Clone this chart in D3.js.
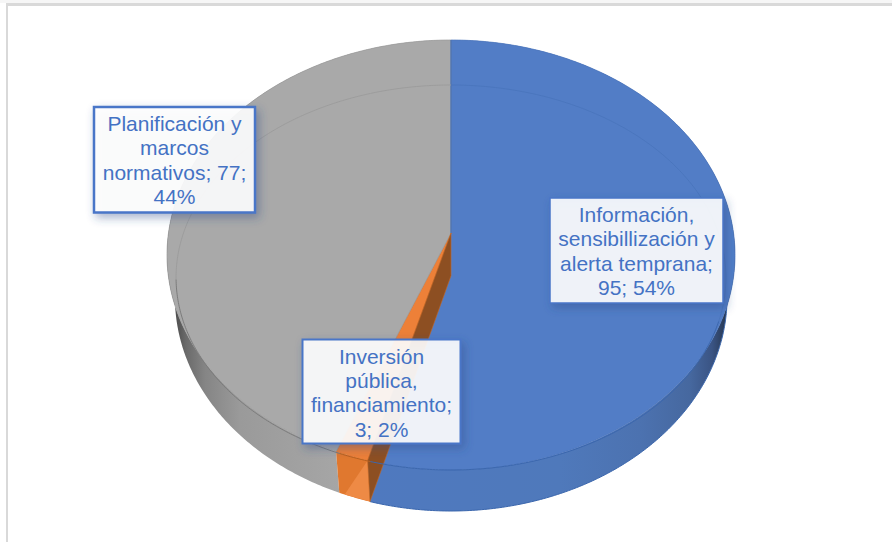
<!DOCTYPE html>
<html><head><meta charset="utf-8">
<script src="https://cdnjs.cloudflare.com/ajax/libs/d3/7.8.5/d3.min.js"></script>
<style>html,body{margin:0;padding:0;background:#fff}svg{display:block}</style>
</head><body><svg id="c" width="892" height="542"></svg>
<script>
const categories=["Información, sensibillización y alerta temprana","Inversión pública, financiamiento","Planificación y marcos normativos"];
const values=[95,3,77];
const wrappedNames=[["Información,","sensibillización y","alerta temprana;"],["Inversión","pública,","financiamiento;"],["Planificación y","marcos","normativos;"]];
const topColors=["#527dc6","#ed8038","#a9a9a9"];

const svg=d3.select("#c");
const W=892,H=542,cx=451,persp=-0.1023;
const defs=svg.append("defs");
function grad(id,stops){
  const g=defs.append("linearGradient").attr("id",id).attr("gradientUnits","userSpaceOnUse")
    .attr("x1",165).attr("x2",740).attr("y1",0).attr("y2",0);
  stops.forEach(([x,c])=>g.append("stop").attr("offset",(x-165)/575).attr("stop-color",c));
}
grad("wallGray",[[174,"#4a4a4a"],[186,"#6a6a6a"],[205,"#858585"],[240,"#9a9a9a"],[340,"#a6a6a6"]]);
grad("wallBlue",[[370,"#4f79bf"],[560,"#4f79bb"],[640,"#4c72b0"],[690,"#46689f"],[712,"#3a5484"],[727,"#26364f"]]);
const shadow=defs.append("filter").attr("id","sh").attr("x","-15%").attr("y","-15%").attr("width","135%").attr("height","135%");
shadow.append("feDropShadow").attr("dx",3).attr("dy",4).attr("stdDeviation",5).attr("flood-color","#2a4a88").attr("flood-opacity",0.45);

// Perspective projection of the pie's circle on to a plane given by its far and near image rows
function plane(far,near,k){
  const s=far*(1-persp), t=near*(1+persp), b=(s+t)/2, a=(t-s)/2;
  return (ang,r=1)=>{
    const u=r*Math.sin(ang), v=-r*Math.cos(ang), d=persp*v+1;
    return [cx+k*u/d,(a*v+b)/d];
  };
}
const topP=plane(40,470,282.5), botP=plane(84,511,274.6), innerP=plane(85,470,273.5);
const line=d3.line();
const arcPts=(p,a0,a1)=>{const n=Math.max(2,Math.ceil(Math.abs(a1-a0)/0.01));
  return d3.range(n+1).map(i=>p(a0+(a1-a0)*i/n));};

const arcs=d3.pie().sort(null).value(d=>d)(values);
const [blue,orange,gray]=arcs;

// side walls
svg.append("path").attr("d",line([...arcPts(botP,gray.startAngle,gray.endAngle),...arcPts(topP,gray.endAngle,gray.startAngle)])+"Z").attr("fill","url(#wallGray)");
svg.append("path").attr("d",line([...arcPts(botP,blue.startAngle,blue.endAngle),...arcPts(topP,blue.endAngle,blue.startAngle)])+"Z").attr("fill","url(#wallBlue)");
svg.append("path").attr("d",line(arcPts(botP,1.0,blue.endAngle))).attr("fill","none").attr("stroke","#3a66ad").attr("stroke-width",1);

// top faces
arcs.forEach((d,i)=>{
  svg.append("path").attr("d",line([topP(0,0),...arcPts(topP,d.startAngle,d.endAngle)])+"Z")
    .attr("fill",topColors[i]).attr("stroke",i==0?"#4a74ba":i==1?"#d96f28":"#9a9a9a").attr("stroke-width",0.7);
});
svg.append("path").attr("d",line([topP(0,0),topP(0,1)])).attr("stroke","#4470b8").attr("stroke-width",1.2).attr("fill","none");

// orange outer face
const mid=orange.startAngle+(orange.endAngle-orange.startAngle)*0.82;
svg.append("path").attr("d",line([...arcPts(topP,orange.startAngle,orange.endAngle),...arcPts(botP,orange.endAngle,orange.startAngle)])+"Z")
  .attr("fill","#e0782f");
svg.append("path").attr("d",line([topP(orange.startAngle),botP(orange.startAngle),botP(mid)])+"Z").attr("fill","#ee8a45");

// dark cut wall of the orange wedge
svg.append("path").attr("d",line([topP(0,0),botP(0,0),botP(blue.endAngle),topP(blue.endAngle)])+"Z")
  .attr("fill","#8d4f22").attr("stroke","#c8661f").attr("stroke-width",0.6);

// bevel line
const bevel=[[0,1.9,"#4a75bc",0.9],[1.9,blue.endAngle,"#3b67ae",1],[blue.endAngle,orange.endAngle,"#b8601f",1],[orange.endAngle,4.6,"#7c7c7c",1],[4.6,2*Math.PI,"#9b9b9b",0.9]];
bevel.forEach(([a,b,c,w])=>svg.append("path").attr("d",line(arcPts(innerP,a,b))).attr("fill","none").attr("stroke",c).attr("stroke-width",w));

// frame
svg.append("rect").attr("x",0).attr("y",0).attr("width",W).attr("height",3).attr("fill","#f6f6f6");
svg.append("rect").attr("x",7).attr("y",3).attr("width",W-7).attr("height",3).attr("fill","#d9d9d9");
svg.append("rect").attr("x",6).attr("y",3).attr("width",2).attr("height",H-3).attr("fill","#d9d9d9");

// data labels
const pct=d3.format(".0%");
const total=d3.sum(values);
const boxes=[{x:550,y:198,w:173,h:105,sw:1.5},{x:302.5,y:339.5,w:158,h:104,sw:2},{x:94,y:107,w:161,h:105.5,sw:2.5}];
values.forEach((v,i)=>{
  const b=boxes[i];
  const names=wrappedNames[i].slice();
  const tail=v+"; "+pct(v/total);
  const lines=i==2?[names[0],names[1],names[2]+" "+v+";",pct(v/total)]:[...names,tail];
  const g=svg.append("g");
  g.append("rect").attr("x",b.x).attr("y",b.y).attr("width",b.w).attr("height",b.h)
    .attr("fill","#ffffff").attr("fill-opacity",0.89).attr("stroke","#4a76c8").attr("stroke-width",b.sw).attr("filter","url(#sh)");
  lines.forEach((t,j)=>g.append("text").attr("x",b.x+b.w/2).attr("y",b.y+24+j*24.4)
    .attr("text-anchor","middle").attr("fill","#4472c4")
    .attr("font-family","'Liberation Sans',Arial,sans-serif").attr("font-size",21).text(t));
});
</script></body></html>
